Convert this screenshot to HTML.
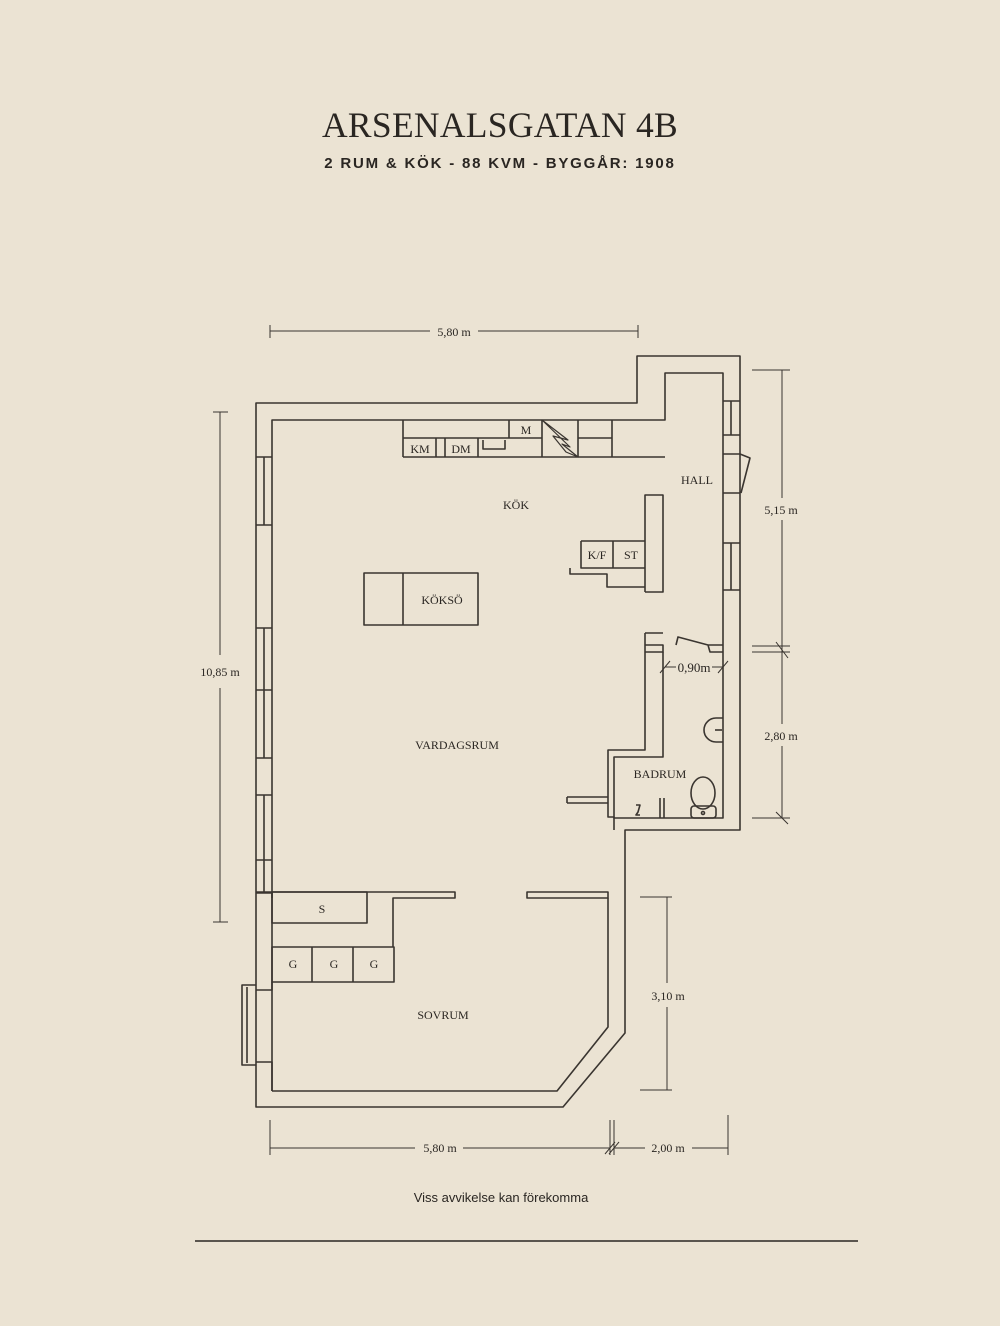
<!DOCTYPE html>
<html><head><meta charset="utf-8"><style>
html,body{margin:0;padding:0;background:#ebe3d3;}
svg{display:block}
</style></head><body>
<svg width="1000" height="1326" viewBox="0 0 1000 1326" xmlns="http://www.w3.org/2000/svg">
<rect width="1000" height="1326" fill="#ebe3d3"/>
<text x="500" y="137" text-anchor="middle" font-family="Liberation Serif, serif" font-size="35.5" fill="#2a2622" letter-spacing="0.3">ARSENALSGATAN 4B</text>
<text x="500" y="168" text-anchor="middle" font-family="Liberation Sans, sans-serif" font-weight="bold" font-size="15" fill="#2a2622" letter-spacing="1.8">2 RUM &amp; KÖK  -  88 KVM  -  BYGGÅR: 1908</text>
<g fill="none" stroke="#3a3530" stroke-width="1.6" stroke-linejoin="round">
<path d="M256,1107 L256,403 L637,403 L637,356 L740,356 L740,830 L625,830 L625,1033 L563,1107 Z"/>
<path d="M272,1091 L272,420 L665,420 L665,373 L723,373 L723,818 L614,818 L614,757 L663,757 L663,652"/>
<path d="M403,457 L665,457"/>
<path d="M403,420 L403,457 M612,420 L612,457 M403,438 L509,438 M436,438 L436,457 M445,438 L445,457 M478,438 L478,457 M483,440 L483,449 L505,449 L505,440 M509,420 L509,438 M542,420 L542,457 M578,420 L578,457 M578,438 L612,438 M542,438 L509,438"/>
<path d="M542,420 L568,440 L553,436 L566,452 L578,457 L562,444 L570,447 Z" stroke-width="1.2"/>
<path d="M723,454 L740,454 M723,493 L740,493 M740,454 L750,458 L741,493"/>
<path d="M723,401 L740,401 M723,435 L740,435 M731,401 L731,435 M723,543 L740,543 M723,590 L740,590 M731,543 L731,590"/>
<path d="M645,592 L645,495 L663,495 L663,592 L645,592 M581,541 L645,541 M581,541 L581,568 L645,568 M613,541 L613,568 M570,568 L570,574 L607,574 L607,587 L645,587"/>
<path d="M645,633 L663,633 M645,633 L645,750 L608,750 L608,817 L614,817 L614,830 M645,645 L663,645 L663,652 L645,652 M676,645 L678,637 L708,645 L710,652 L723,652 M708,645 L723,645"/>
<path d="M567,797 L608,797 M567,803 L608,803 M567,797 L567,803"/>
<path d="M660,798 L660,818 M664,798 L664,818"/>
<path d="M723,718 L716,718 A12,12 0 1 0 716,742 L723,742" />
<path d="M715,730 L722,730"/>
<ellipse cx="703" cy="793" rx="12" ry="16"/>
<rect x="691" y="806" width="25" height="12" rx="3"/>
<circle cx="703" cy="813" r="1.5"/>
<path d="M636,805 L640,805 L638,812 L636,815 L640,815"/>
<rect x="364" y="573" width="114" height="52"/>
<path d="M403,573 L403,625"/>
<g>
<path d="M256,457 L272,457 M256,525 L272,525 M264,457 L264,525"/>
<path d="M256,628 L272,628 M256,690 L272,690 M256,758 L272,758 M264,628 L264,758"/>
<path d="M256,795 L272,795 M256,860 L272,860 M256,893 L272,893 M264,795 L264,893"/>
</g>
<path d="M256,892 L455,892 L455,898 L393,898 L393,947 M272,898 L272,892 M527,892 L608,892 L608,898 L527,898 Z"/>
<path d="M608,898 L608,1027 L557,1091 L272,1091"/>
<rect x="272" y="892" width="95" height="31"/>
<rect x="272" y="947" width="122" height="35"/>
<path d="M312,947 L312,982 M353,947 L353,982 M272,982 L272,990 L256,990 M256,1062 L272,1062 L272,1091"/>
<path d="M256,985 L242,985 L242,1065 L256,1065 M247,987 L247,1063"/>
</g>
<g stroke="#3a3530" stroke-width="1" fill="none">
<path d="M270,331 L430,331 M478,331 L638,331 M270,325 L270,338 M638,325 L638,338"/>
<path d="M220,412 L220,655 M220,688 L220,922 M213,412 L228,412 M213,922 L228,922"/>
<path d="M782,370 L782,498 M782,520 L782,652 M752,370 L790,370 M752,646 L790,646 M752,652 L790,652 M776,642 L788,658 M782,652 L782,724 M782,746 L782,818 M752,818 L790,818 M776,812 L788,824"/>
<path d="M667,897 L667,983 M667,1007 L667,1090 M640,897 L672,897 M640,1090 L672,1090"/>
<path d="M270,1148 L415,1148 M463,1148 L610,1148 M614,1148 L645,1148 M692,1148 L728,1148 M270,1120 L270,1155 M610,1120 L610,1155 M614,1120 L614,1155 M728,1115 L728,1155 M605,1154 L615,1142 M609,1154 L619,1142"/>
<path d="M665,667 L676,667 M712,667 L723,667 M660,673 L670,661 M718,673 L728,661"/>
</g>
<g font-family="Liberation Serif, serif" font-size="12" fill="#2a2622" text-anchor="middle">
<text x="454" y="336">5,80 m</text>
<text x="220" y="676">10,85 m</text>
<text x="781" y="514">5,15 m</text>
<text x="781" y="740">2,80 m</text>
<text x="668" y="1000">3,10 m</text>
<text x="440" y="1152">5,80 m</text>
<text x="668" y="1152">2,00 m</text>
<text x="694" y="672" font-size="13">0,90m</text>
<text x="516" y="509">KÖK</text>
<text x="697" y="484">HALL</text>
<text x="420" y="453">KM</text>
<text x="461" y="453">DM</text>
<text x="526" y="434">M</text>
<text x="597" y="559">K/F</text>
<text x="631" y="559">ST</text>
<text x="442" y="604">KÖKSÖ</text>
<text x="457" y="749">VARDAGSRUM</text>
<text x="660" y="778">BADRUM</text>
<text x="322" y="913">S</text>
<text x="293" y="968">G</text>
<text x="334" y="968">G</text>
<text x="374" y="968">G</text>
<text x="443" y="1019">SOVRUM</text>
</g>
<text x="501" y="1202" text-anchor="middle" font-family="Liberation Sans, sans-serif" font-size="13" fill="#2a2622">Viss avvikelse kan förekomma</text>
<path d="M195,1241 L858,1241" stroke="#2a2622" stroke-width="1.5"/>
</svg>
</body></html>
